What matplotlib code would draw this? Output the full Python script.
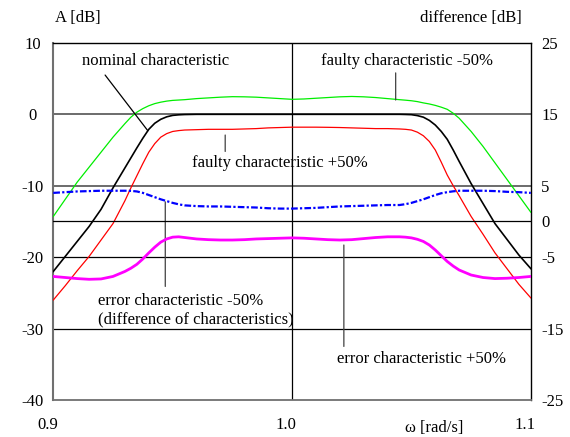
import matplotlib
matplotlib.use("Agg")
import matplotlib.pyplot as plt
import matplotlib.transforms as mtransforms

plt.rcParams["font.family"] = ["Liberation Serif", "DejaVu Serif"]
plt.rcParams["font.size"] = 12

# frequency points [rad/s] (denser in the transition bands)
omega = [0.900, 0.905, 0.910, 0.915, 0.920, 0.925, 0.930,
         0.9325, 0.935, 0.9375, 0.940, 0.9425, 0.945, 0.9475, 0.950, 0.9525,
         0.955, 0.960, 0.965, 0.970, 0.975, 0.980, 0.985, 0.990, 0.995, 1.000,
         1.005, 1.010, 1.015, 1.020, 1.025, 1.030, 1.035, 1.040, 1.045,
         1.0475, 1.050, 1.0525, 1.055, 1.0575, 1.060, 1.0625, 1.065, 1.0675,
         1.070, 1.075, 1.080, 1.085, 1.090, 1.095, 1.100]

# magnitude A [dB] (left axis)
nominal = [-22.0, -19.9, -17.8, -15.7, -13.3, -10.3, -7.5,
           -6.1, -4.7, -3.35, -2.1, -1.25, -0.7, -0.35, -0.15, -0.07,
           -0.03, 0.0, 0.0, 0.0, 0.0, 0.0, 0.0, 0.0, 0.0, 0.0,
           0.0, 0.0, 0.0, 0.0, 0.0, 0.0, 0.0, 0.0, 0.0,
           -0.02, -0.05, -0.18, -0.4, -0.85, -1.5, -2.4, -3.5, -5.0,
           -6.6, -9.7, -12.5, -15.3, -17.5, -19.7, -21.6]
faulty_minus = [-14.3, -11.9, -9.5, -7.4, -5.3, -3.2, -1.3,
                -0.4, 0.3, 0.8, 1.2, 1.5, 1.7, 1.85, 1.95, 2.0,
                2.05, 2.2, 2.3, 2.4, 2.47, 2.45, 2.4, 2.3, 2.2, 2.1,
                2.15, 2.25, 2.35, 2.45, 2.5, 2.45, 2.35, 2.2, 2.05,
                1.98, 1.9, 1.78, 1.6, 1.45, 1.25, 1.0, 0.7, 0.15,
                -0.55, -2.4, -4.5, -6.8, -9.1, -11.4, -13.7]
faulty_plus = [-26.0, -24.0, -21.9, -19.9, -17.6, -15.3, -12.1,
               -10.3, -8.6, -6.9, -5.3, -4.1, -3.2, -2.7, -2.4, -2.28,
               -2.2, -2.15, -2.1, -2.1, -2.1, -2.05, -2.0, -1.9, -1.85, -1.8,
               -1.8, -1.8, -1.82, -1.85, -1.9, -1.95, -2.0, -2.0, -2.05,
               -2.1, -2.2, -2.5, -3.0, -3.8, -5.0, -6.7, -8.5, -10.0,
               -11.4, -14.3, -16.8, -19.4, -21.6, -23.8, -25.7]

# difference [dB] (right axis)
error_minus = [4.0, 4.1, 4.2, 4.25, 4.3, 4.3, 4.3,
               4.28, 4.2, 4.0, 3.7, 3.4, 3.1, 2.85, 2.6, 2.4,
               2.25, 2.15, 2.1, 2.1, 2.05, 2.0, 1.95, 1.85, 1.8, 1.8,
               1.85, 1.9, 2.0, 2.1, 2.15, 2.2, 2.25, 2.3, 2.3,
               2.42, 2.6, 2.85, 3.1, 3.4, 3.7, 3.95, 4.1, 4.22,
               4.3, 4.3, 4.3, 4.25, 4.15, 4.1, 4.0]
error_plus = [-7.7, -7.85, -8.0, -8.1, -8.05, -7.7, -7.0,
              -6.55, -6.0, -5.25, -4.4, -3.6, -2.9, -2.45, -2.2, -2.15,
              -2.25, -2.45, -2.55, -2.6, -2.6, -2.55, -2.45, -2.4, -2.35, -2.3,
              -2.35, -2.45, -2.55, -2.6, -2.55, -2.4, -2.25, -2.15, -2.15,
              -2.2, -2.3, -2.5, -2.8, -3.3, -4.0, -4.8, -5.6, -6.25,
              -6.8, -7.5, -7.85, -8.0, -7.95, -7.85, -7.7]

left_ticks = [10, 0, -10, -20, -30, -40]
right_ticks = [25, 15, 5, 0, -5, -15, -25]
x_ticks = [0.9, 1.0, 1.1]
x_labels = ["0.9", "1.0", "1.1"]

fig = plt.figure(figsize=(5.7, 4.37), dpi=100)
ax = fig.add_axes([53.3 / 570, 37 / 437, 477.5 / 570, 357.1 / 437])
ax.set_xlim(0.9, 1.1)
ax.set_ylim(-40, 10)
ax2 = ax.twinx()
ax2.set_ylim(-25, 25)

# grid
for y in [0, -10]:
    ax.axhline(y, color="#606060", lw=1.3, zorder=1)
for y in [-20, -30]:
    ax.axhline(y, color="black", lw=0.9, zorder=1)
ax2.axhline(0, color="black", lw=0.9, zorder=1)
ax.axvline(1.0, color="black", lw=0.9, zorder=1)

ax.plot(omega, faulty_minus, color="#00ee00", lw=0.9, zorder=3)
ax.plot(omega, nominal, color="black", lw=1.2, zorder=3)
ax.plot(omega, faulty_plus, color="red", lw=0.9, zorder=3)
ax2.plot(omega, error_minus, color="#0000ff", lw=1.6, ls=(0, (3, 1, 1, 1)), zorder=3)
ax2.plot(omega, error_plus, color="#ff00ff", lw=2.0, zorder=3)

# annotations
line_kw = dict(arrowstyle="-", color="#404040", lw=0.9, shrinkA=0, shrinkB=0)
ax.text(0.9429, 7.5, "nominal characteristic", ha="center", va="center")
ax.annotate("", xy=(0.9396, -2.3), xytext=(0.9217, 5.5),
            arrowprops=dict(line_kw, color="black"))
ax.text(1.0482, 7.5, "faulty characteristic -50%", ha="center", va="center")
ax.annotate("", xy=(1.0434, 2.0), xytext=(1.0434, 5.8), arrowprops=line_kw)
ax.text(0.9582, -6.8, "faulty characteristic +50%", ha="left", va="center")
ax.annotate("", xy=(0.972, -2.9), xytext=(0.972, -5.2), arrowprops=line_kw)
ax.text(0.9188, -27.4, "error characteristic -50%\n(difference of characteristics)",
        ha="left", va="center", linespacing=1.15)
ax.annotate("", xy=(0.9469, -12.25), xytext=(0.9469, -24.1), arrowprops=line_kw)
ax.text(1.0189, -34.2, "error characteristic +50%", ha="left", va="center")
ax.annotate("", xy=(1.0217, -18.3), xytext=(1.0217, -32.5), arrowprops=line_kw)

# axes styling
ax.set_yticks(left_ticks)
ax.set_yticklabels([str(t) for t in left_ticks])
ax.tick_params(axis="y", length=0, pad=15)
for lbl in ax.get_yticklabels():
    lbl.set_horizontalalignment("center")
ax2.set_yticks(right_ticks)
ax2.set_yticklabels([str(t) for t in right_ticks])
ax2.tick_params(axis="y", length=0, pad=7.5)
ax.set_xticks(x_ticks)
ax.set_xticklabels(x_labels)
ax.tick_params(axis="x", length=0, pad=12)
shift = mtransforms.ScaledTranslation(-0.06, 0, fig.dpi_scale_trans)
for lbl in ax.get_xticklabels():
    lbl.set_transform(lbl.get_transform() + shift)

for s in ax2.spines.values():
    s.set_visible(False)
ax.spines["left"].set_color("#707070")
ax.spines["left"].set_linewidth(1.5)
ax.spines["bottom"].set_color("#707070")
ax.spines["bottom"].set_linewidth(1.3)
ax.spines["top"].set_linewidth(1.0)
ax.spines["right"].set_linewidth(1.0)

fig.text(55 / 570, 1 - 18.5 / 437, "A [dB]", ha="left", va="center")
fig.text(522 / 570, 1 - 18.5 / 437, "difference [dB]", ha="right", va="center")
fig.text(434 / 570, 1 - 428 / 437, "ω [rad/s]", ha="center", va="center")

fig.savefig("out.png", dpi=100)
